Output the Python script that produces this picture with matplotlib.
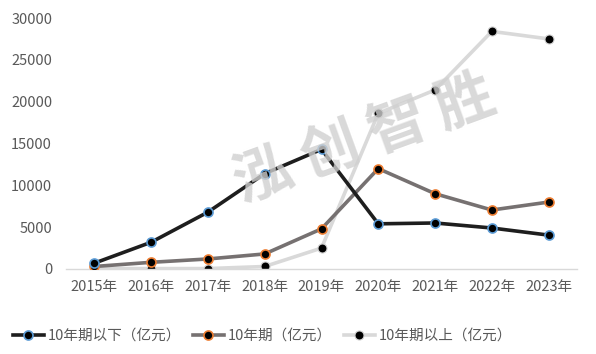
import matplotlib.pyplot as plt

plt.rcParams['font.family'] = ['Noto Sans CJK SC', 'DejaVu Sans']

years = ['2015年', '2016年', '2017年', '2018年', '2019年', '2020年', '2021年', '2022年', '2023年']
below_10 = [700, 3200, 6800, 11400, 14300, 5400, 5500, 4900, 4050]
ten_year = [300, 800, 1200, 1800, 4800, 12000, 9000, 7050, 8000]
above_10 = [50, 50, 50, 300, 2500, 18600, 21400, 28400, 27500]

fig = plt.figure(figsize=(5.96, 3.54), dpi=100)
ax = fig.add_axes([66 / 596, 1 - 269 / 354, 511 / 596, 251 / 354])

x = range(len(years))
ax.plot(x, below_10, color='#1e1e1e', lw=2.6, marker='o', ms=6.5,
        mfc='black', mec='#5b9bd5', mew=1.2, label='10年期以下（亿元）', zorder=4)
ax.plot(x, ten_year, color='#767171', lw=2.6, marker='o', ms=6.5,
        mfc='black', mec='#ed7d31', mew=1.2, label='10年期（亿元）', zorder=3)
ax.plot(x, above_10, color='#d9d9d9', lw=2.6, marker='o', ms=6.5,
        mfc='black', mec='#cfcfcf', mew=0.8, label='10年期以上（亿元）', zorder=2)

# watermark
fig.text(365 / 596, 1 - 140 / 354, '泓 创 智 胜', fontsize=42, color='#d0d0d0',
         alpha=0.8, rotation=20, ha='center', va='center', fontweight='bold',
         zorder=0)

ax.set_xlim(-0.5, 8.5)
ax.set_ylim(0, 30000)
ax.set_yticks(range(0, 30001, 5000))
ax.set_xticks(list(x))
ax.set_xticklabels(years)
for s in ['top', 'right', 'left']:
    ax.spines[s].set_visible(False)
ax.spines['bottom'].set_color('#d9d9d9')
ax.spines['bottom'].set_linewidth(1)
ax.tick_params(axis='both', length=0, labelsize=10.5, colors='#595959')
ax.tick_params(axis='y', pad=10)
ax.tick_params(axis='x', pad=8)

fig.legend(loc='lower left', bbox_to_anchor=(0.0, -0.005), ncol=3, frameon=False,
           fontsize=10.5, labelcolor='#595959', handlelength=2.1, columnspacing=0.8,
           handletextpad=0.3)

fig.savefig('out.png', dpi=100)
